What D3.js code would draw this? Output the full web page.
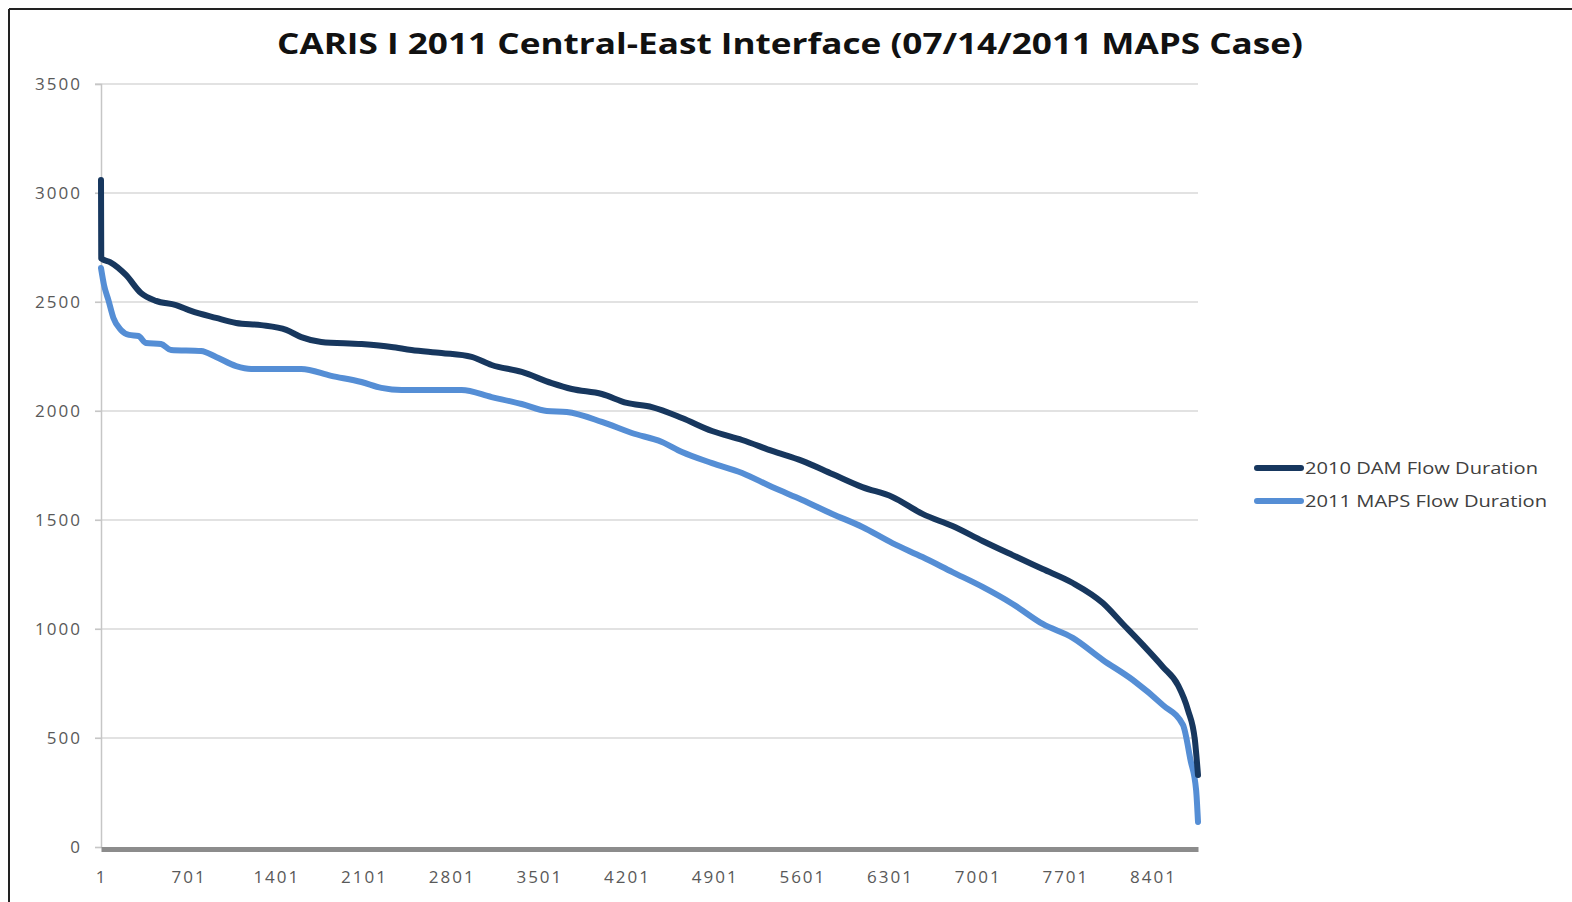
<!DOCTYPE html>
<html><head><meta charset="utf-8">
<script src="https://cdn.jsdelivr.net/npm/d3@7"></script>
<style>body{margin:0;background:#fff;}svg{display:block;}</style>
</head><body>
<svg id="c" width="1572" height="902"></svg>
<script>
const title = "CARIS I 2011 Central-East Interface (07/14/2011 MAPS Case)";
const seriesNames = ["2010 DAM Flow Duration", "2011 MAPS Flow Duration"];
const xTickLabels = [1, 701, 1401, 2101, 2801, 3501, 4201, 4901, 5601, 6301, 7001, 7701, 8401];
const yTickLabels = [0, 500, 1000, 1500, 2000, 2500, 3000, 3500];
const damHours = [1, 3, 73, 200, 320, 440, 600, 720, 920, 1080, 1280, 1480, 1600, 1760, 2080, 2320, 2480, 2720, 2960, 3120, 3360, 3600, 3760, 4000, 4200, 4400, 4640, 4880, 5120, 5360, 5600, 5840, 6080, 6320, 6560, 6800, 7040, 7280, 7520, 7760, 8000, 8160, 8320, 8480, 8600, 8680, 8735, 8760];
const damFlow = [3060, 2700, 2683, 2624, 2541, 2505, 2486, 2459, 2427, 2404, 2394, 2372, 2339, 2317, 2307, 2294, 2280, 2266, 2248, 2211, 2179, 2128, 2101, 2078, 2037, 2018, 1968, 1908, 1867, 1817, 1771, 1711, 1651, 1606, 1528, 1472, 1404, 1339, 1275, 1211, 1119, 1023, 927, 826, 743, 628, 491, 330];
const mapsHours = [1, 25, 60, 100, 160, 225, 300, 360, 480, 560, 800, 920, 1080, 1200, 1600, 1840, 2080, 2240, 2400, 2880, 3120, 3360, 3560, 3720, 4000, 4240, 4480, 4640, 4880, 5120, 5360, 5600, 5840, 6080, 6320, 6560, 6800, 7040, 7280, 7520, 7760, 8000, 8240, 8480, 8640, 8700, 8745, 8760];
const mapsFlow = [2656, 2578, 2509, 2427, 2372, 2349, 2344, 2312, 2307, 2280, 2275, 2248, 2206, 2193, 2193, 2161, 2133, 2106, 2096, 2096, 2064, 2032, 2000, 1995, 1950, 1899, 1858, 1812, 1761, 1716, 1651, 1592, 1528, 1468, 1394, 1330, 1261, 1193, 1115, 1023, 959, 858, 766, 651, 560, 399, 261, 115];
const colors = ["#17375e", "#558ed5"];

const svg = d3.select("#c");
const font = "'Open Sans', 'Liberation Sans', sans-serif";

// frame
svg.append("line").attr("x1", 9).attr("y1", 9).attr("x2", 1572).attr("y2", 9).attr("stroke", "#222").attr("stroke-width", 2);
svg.append("line").attr("x1", 9).attr("y1", 9).attr("x2", 9).attr("y2", 902).attr("stroke", "#222").attr("stroke-width", 2);

const x = d3.scaleLinear().domain([1, 8760]).range([101, 1198]);
const y = d3.scaleLinear().domain([0, 3500]).range([847, 84]);

// gridlines
svg.append("g").selectAll("line").data(yTickLabels.filter(d => d > 0)).join("line")
  .attr("x1", 95).attr("x2", 1198).attr("y1", d => y(d)).attr("y2", d => y(d))
  .attr("stroke", "#c6c6c6").attr("stroke-width", 1.2);

// y axis
const yAxis = svg.append("g").attr("transform", "translate(101,0)")
  .call(d3.axisLeft(y).tickValues(yTickLabels).tickSize(6).tickPadding(13).tickFormat(d3.format("d")));
yAxis.select(".domain").attr("stroke", "#c6c6c6").attr("stroke-width", 1.5);
yAxis.selectAll(".tick line").attr("stroke", "#c6c6c6").attr("stroke-width", 1.2);
yAxis.selectAll("text").attr("font-family", font).attr("font-size", 17).attr("letter-spacing", 2).attr("fill", "#595959");

// x axis
const xAxis = svg.append("g").attr("transform", "translate(0,849)")
  .call(d3.axisBottom(x).tickValues(xTickLabels).tickSize(0).tickPadding(22).tickFormat(d3.format("d")));
xAxis.select(".domain").attr("stroke", "#8c8c8c").attr("stroke-width", 5);
xAxis.selectAll("text").attr("font-family", font).attr("font-size", 17).attr("letter-spacing", 2).attr("fill", "#595959");

// lines
const line = d3.line().x(d => x(d[0])).y(d => y(d[1])).curve(d3.curveMonotoneX);
const dam = damHours.map((h, i) => [h, damFlow[i]]);
const maps = mapsHours.map((h, i) => [h, mapsFlow[i]]);
svg.append("path").datum(maps).attr("d", line).attr("fill", "none").attr("stroke", colors[1]).attr("stroke-width", 6).attr("stroke-linejoin", "round").attr("stroke-linecap", "round");
svg.append("path").datum(dam).attr("d", line).attr("fill", "none").attr("stroke", colors[0]).attr("stroke-width", 6).attr("stroke-linejoin", "round").attr("stroke-linecap", "round");

// title
svg.append("text").attr("x", 790).attr("y", 54).attr("text-anchor", "middle")
  .attr("font-family", font).attr("font-weight", "bold").attr("font-size", 29).attr("fill", "#111")
  .attr("textLength", 1026).attr("lengthAdjust", "spacingAndGlyphs").text(title);

// legend
const lg = svg.append("g");
const legendWidths = [233, 242];
seriesNames.forEach((n, i) => {
  const yy = 468 + i * 33;
  lg.append("line").attr("x1", 1257).attr("x2", 1301).attr("y1", yy).attr("y2", yy)
    .attr("stroke", colors[i]).attr("stroke-width", 6).attr("stroke-linecap", "round");
  lg.append("text").attr("x", 1305).attr("y", yy + 6).attr("font-family", font).attr("font-size", 17)
    .attr("fill", "#404040").attr("textLength", legendWidths[i]).attr("lengthAdjust", "spacingAndGlyphs").text(n);
});
</script>
</body></html>
